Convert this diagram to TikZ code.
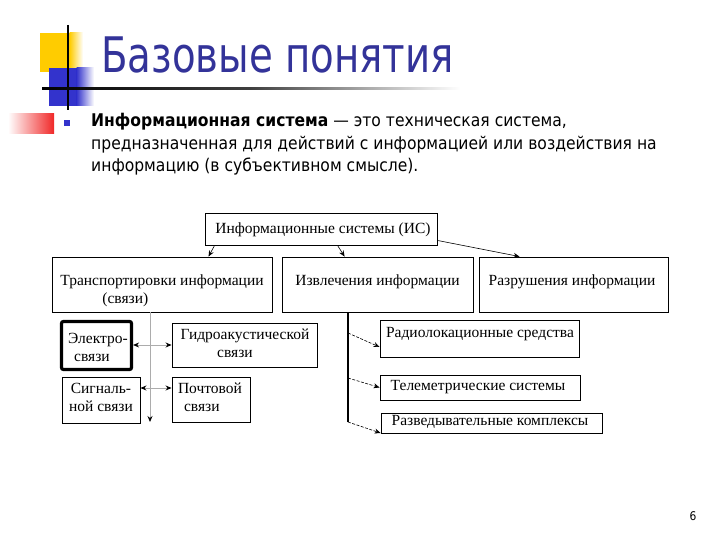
\documentclass[tikz,border=0pt]{standalone}
\usepackage{fontspec}
\setmainfont{Liberation Serif}
\newfontfamily\titlefont[FakeStretch=0.79]{DejaVu Sans}
\newfontfamily\bodyfont[FakeStretch=0.89]{DejaVu Sans}
\newfontfamily\diafont{Liberation Serif}
\usetikzlibrary{arrows.meta}
\definecolor{titleblue}{RGB}{51,51,153}
\definecolor{decoyellow}{RGB}{255,204,0}
\definecolor{decoblue}{RGB}{51,51,204}
\definecolor{decored}{RGB}{240,40,40}
\tikzset{
  box/.style={draw=black, line width=0.9pt, rectangle, inner sep=0pt},
  dtext/.style={font=\diafont\fontsize{15.5}{18}\selectfont, inner sep=0pt, align=center},
  tip/.style={-{Stealth[length=6pt,width=5pt]}},
  arr/.style={tip, black, line width=0.6pt},
  garr/.style={-{Stealth[length=6pt,width=5pt,black]}, draw=gray!65, line width=0.8pt},
  darr/.style={tip, black, line width=0.6pt, dashed, dash pattern=on 3pt off 1.5pt},
}
\begin{document}
\begin{tikzpicture}[x=1pt,y=-1pt]
\useasboundingbox (0,0) rectangle (720,540);
\fill[white] (0,0) rectangle (720,540);
% decorations
\fill[decoyellow] (40,33) rectangle (70,72);
\shade[left color=decoyellow, right color=white] (69.5,33) rectangle (83,72);
\fill[decoblue] (49,68) rectangle (77,106);
\shade[left color=decoblue, right color=white] (76.5,68) rectangle (94,106);
\shade[left color=white, right color=decored] (8,114) rectangle (54,134);
\draw[black, line width=1.6pt] (68,25) -- (68,110);
\shade[left color=black, right color=white, middle color=black!75] (42,88) rectangle (460,90);
\fill[decoblue] (64,120) rectangle (70,126);
% title and text
\node[anchor=base west, inner sep=0pt, text=titleblue, font=\titlefont\fontsize{49}{55}\selectfont] (title) at (101,73) {Базовые понятия};
\node[anchor=base west, inner sep=0pt, align=left, font=\bodyfont\fontsize{17.5}{22.5}\selectfont] (body) at (91,172)
 {\textbf{Информационная система} — это техническая система,\\
  предназначенная для действий с информацией или воздействия на\\
  информацию (в субъективном смысле).};
\node[anchor=base, inner sep=0pt, font=\bodyfont\fontsize{12}{14}\selectfont] (page) at (693,520) {6};
% diagram boxes
\node[box, minimum width=232pt, minimum height=32pt] (top) at (321,229) {};
\node[dtext] (toptxt) at (323,230) {Информационные системы (ИС)};
\node[box, minimum width=220pt, minimum height=55pt] (trans) at (162,284.5) {};
\node[dtext, align=left] (transtxt) at (162,291) {Транспортировки информации\\\hspace*{42pt}(связи)};
\node[box, minimum width=191pt, minimum height=55pt] (extr) at (377.5,284.5) {};
\node[dtext] (extrtxt) at (377.5,282) {Извлечения информации};
\node[box, minimum width=189pt, minimum height=55pt] (destr) at (573.5,284.5) {};
\node[dtext] (destrtxt) at (572,282) {Разрушения информации};
\node[box, line width=3.2pt, rounded corners=2pt, minimum width=70pt, minimum height=48pt] (elec) at (96.5,345.5) {};
\node[dtext, align=left] (electxt) at (98,347) {Электро-\\\hspace*{6pt}связи};
\node[box, minimum width=145pt, minimum height=44pt] (hydro) at (244.5,345) {};
\node[dtext] (hydrotxt) at (245,343) {Гидроакустической\\\hspace*{-20pt}связи};
\node[box, minimum width=78pt, minimum height=46pt] (sig) at (101,400) {};
\node[dtext] (sigtxt) at (101,397) {Сигналь-\\ной связи};
\node[box, minimum width=78pt, minimum height=45pt] (post) at (211,399.5) {};
\node[dtext, align=left] (posttxt) at (210,397) {Почтовой\\\hspace*{6pt}связи};
\node[box, minimum width=199pt, minimum height=37pt] (radio) at (479.5,338.5) {};
\node[dtext] (radiotxt) at (480,334) {Радиолокационные средства};
\node[box, minimum width=200pt, minimum height=25pt] (tele) at (480,387.5) {};
\node[dtext] (teletxt) at (478,387) {Телеметрические системы};
\node[box, minimum width=221pt, minimum height=20pt] (razv) at (491.5,423) {};
\node[dtext] (razvtxt) at (490,422) {Разведывательные комплексы};
% connectors from top
\draw[arr] ([xshift=10pt]top.south west) -- ([xshift=157pt]trans.north west);
\draw[arr] ([xshift=133pt]top.south west) -- ([xshift=63pt]extr.north west);
\draw[arr] ([yshift=5pt]top.south east) -- ([xshift=41pt]destr.north west);
% left group
\coordinate (tv) at (150,422);
\coordinate (j1) at (150,345);
\coordinate (j2) at (150,388);
\draw[garr] ([xshift=-12pt]trans.south) -- (tv);
\draw[garr] (j1) -- (j1 -| elec.east);
\draw[garr] (j1) -- (j1 -| hydro.west);
\draw[garr] (j2) -- (j2 -| sig.east);
\draw[garr] (j2) -- (j2 -| post.west);
% middle group
\coordinate (m1) at (348,333);
\coordinate (m2) at (348,378);
\coordinate (m3) at (348,422);
\draw[black, line width=1.3pt] ([xshift=-29.5pt]extr.south) -- (m3);
\draw[darr] (m1) -- ([yshift=-8.5pt]radio.west);
\draw[darr] (m2) -- (tele.west);
\draw[darr] (m3) -- ([yshift=-10pt]razv.west);
\end{tikzpicture}
\end{document}
